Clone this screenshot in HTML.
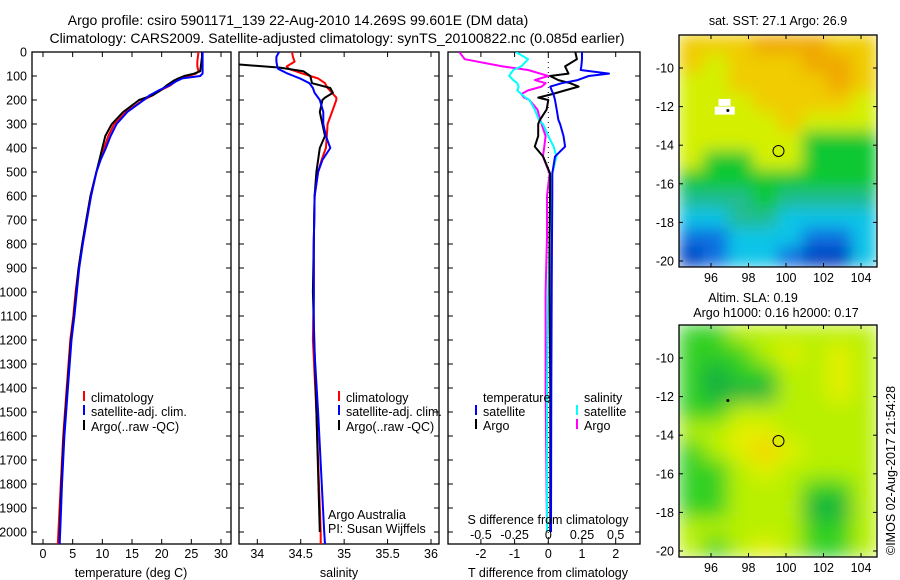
<!DOCTYPE html>
<html><head><meta charset="utf-8">
<style>
html,body{margin:0;padding:0;background:#fff;}
svg{display:block;font-family:"Liberation Sans",sans-serif;}
text{font-size:12.5px;fill:#000;}
</style></head>
<body>
<svg id="chart" width="900" height="580" viewBox="0 0 900 580">
<defs>
 <filter id="blurTop" x="0" y="0" width="1" height="1"><feGaussianBlur stdDeviation="8" edgeMode="duplicate"/></filter>
 <filter id="blurBot" x="0" y="0" width="1" height="1"><feGaussianBlur stdDeviation="10" edgeMode="duplicate"/></filter>
 <clipPath id="clipTop"><rect x="679" y="35" width="198" height="232"/></clipPath>
 <clipPath id="clipBot"><rect x="679" y="325" width="198" height="232"/></clipPath>
 <clipPath id="clipP1"><rect x="32" y="52" width="199" height="492"/></clipPath>
 <clipPath id="clipP2"><rect x="239" y="52" width="200" height="492"/></clipPath>
 <clipPath id="clipP3"><rect x="448" y="52" width="192" height="492"/></clipPath>
</defs>
<text x="298" y="25" text-anchor="middle" style="font-size:14px">Argo profile: csiro 5901171_139 22-Aug-2010 14.269S 99.601E (DM data)</text>
<text x="337" y="43" text-anchor="middle" style="font-size:14px">Climatology: CARS2009. Satellite-adjusted climatology: synTS_20100822.nc (0.085d earlier)</text>
<g id="g1"></g>
<g id="g2"></g>
<g id="g3"></g>
<g id="gm1"></g>
<g id="gm2"></g>
<text transform="translate(895,555) rotate(-90)" style="font-size:12.5px">©IMOS 02-Aug-2017 21:54:28</text>
</svg>
<script>
// ---------- data ----------
const tDepth = [0,20,40,60,80,90,100,110,120,140,160,180,200,250,300,350,400,450,500,600,700,800,900,1000,1100,1200,1400,1600,1800,2000,2050];
const tClim  = [26.2,26.1,26.0,26.0,26.2,25.8,24.5,23.2,22.5,21.4,19.8,18.5,16.9,14.0,12.0,11.0,10.3,9.6,9.0,8.0,7.3,6.6,6.0,5.5,5.1,4.6,4.0,3.4,3.0,2.6,2.5];
const tSat   = [26.9,26.9,26.9,26.9,26.9,26.9,26.5,23.5,22.6,21.2,19.5,18.0,17.0,14.2,12.4,11.4,10.6,9.7,9.0,8.1,7.4,6.7,6.1,5.7,5.3,4.8,4.2,3.6,3.2,2.9,2.8];
const tArgo  = [26.8,26.8,26.7,26.6,26.5,25.5,23.8,22.8,22.0,20.8,19.8,18.5,16.2,13.5,11.6,10.5,10.0,9.5,9.0,8.0,7.3,6.6,6.0,5.6,5.2,4.7,4.1,3.5,3.1,2.8,2.8];
const sDepth = [0,20,40,60,70,90,100,110,130,150,170,190,200,250,300,350,400,450,500,600,800,1000,1200,1500,2000,2050];
const sClim  = [34.40,34.41,34.43,34.34,34.36,34.52,34.61,34.70,34.78,34.81,34.86,34.91,34.91,34.86,34.81,34.80,34.79,34.74,34.70,34.66,34.65,34.65,34.64,34.68,34.73,34.73];
const sSat   = [34.25,34.22,34.22,34.23,34.24,34.35,34.42,34.49,34.60,34.64,34.66,34.70,34.72,34.76,34.76,34.79,34.84,34.75,34.70,34.66,34.65,34.65,34.65,34.70,34.77,34.78];
const sArgoDepth = [52,65,80,100,130,150,170,190,200,250,300,350,400,500,600,1000,1500,2000];
const sArgo  = [33.79,34.26,34.53,34.61,34.63,34.84,34.87,34.78,34.75,34.72,34.75,34.78,34.72,34.68,34.66,34.64,34.68,34.72];
const dDepth = [0,30,60,75,90,100,117,130,144,160,175,190,200,240,283,300,350,394,436,506,600,770,1000,1400,2000];
const dTSat  = [1.0,1.0,0.98,0.96,1.8,1.2,0.87,0.4,0.06,0.1,0.15,0.18,0.2,0.25,0.3,0.35,0.45,0.5,0.2,0.12,0.12,0.11,0.1,0.09,0.08];
const dTArgo = [0.8,0.85,0.5,0.55,0.6,0.05,0.3,0.65,0.9,0.5,0.13,-0.3,0.0,-0.05,-0.25,-0.3,-0.3,-0.4,-0.15,0.05,0.05,0.04,0.04,0.06,0.06];
const dSSat  = [-0.24,-0.15,-0.2,-0.26,-0.28,-0.29,-0.26,-0.23,-0.22,-0.23,-0.2,-0.17,-0.14,-0.1,-0.07,-0.04,0.0,0.04,0.06,0.03,0.02,0.01,0.0,-0.01,-0.01];
const dSArgo = [-0.66,-0.62,-0.34,-0.15,-0.06,0.0,-0.1,-0.02,-0.05,-0.15,-0.2,-0.18,-0.14,-0.08,-0.06,-0.05,-0.02,-0.03,-0.04,0.01,-0.01,-0.01,-0.02,-0.02,-0.01];
const depthTicks = [0,100,200,300,400,500,600,700,800,900,1000,1100,1200,1300,1400,1500,1600,1700,1800,1900,2000];
const tTicks = [0,5,10,15,20,25,30];
const sTicks = [34,34.5,35,35.5,36];
const dTTicks = [-2,-1,0,1,2];
const dSTicks = [-0.5,-0.25,0,0.25,0.5];
const lonTicks = [96,98,100,102,104];
const latTicks = [-10,-12,-14,-16,-18,-20];
// map category grids (rows top→bottom)
const sstGrid = ["YYYOOOYY","YLYYYOOY","LLYYYYOY","LLLYYYYL","LLLLYLLL","LLLLLGGG","LGGLLGGG","GGGGGGGG","TTTGTTTT","CCTTCCCC","BBCCCBBC","DBCCBDDC"];
const slaGrid = ["GGLLLLLL","GGGLYLYL","GDGGLLYL","GDDDLLYL","GGLLLLLL","LLYYLLLL","GLYOYLLL","GGLYLLLL","GGLLLGGL","GGLLLDDL","LLLLLGGL","LGLYLGGL"];
const sstColors = {O:"#f0a800",Y:"#f0cc00",L:"#d4f000",G:"#10c830",T:"#20bc90",C:"#10c4e8",B:"#1070e0",D:"#0040c0"};
const slaColors = {D:"#10b040",G:"#30d020",L:"#b8f000",Y:"#e4f000",O:"#f4d000"};

// ---------- helpers ----------
const NS="http://www.w3.org/2000/svg";
function mk(tag,attrs,parent){const e=document.createElementNS(NS,tag);for(const k in attrs)e.setAttribute(k,attrs[k]);parent.appendChild(e);return e;}
const Y0=52,Y1=544,DMAX=2050;
function yScale(d){return Y0+(Y1-Y0)*d/DMAX;}
function linScale(v0,p0,v1,p1){return v=>p0+(v-v0)*(p1-p0)/(v1-v0);}

function frame(g,x0,x1,xs,ticks,name){
  const r=mk('rect',{x:x0,y:Y0,width:x1-x0,height:Y1-Y0,fill:'none',stroke:'#000','stroke-width':1.3},g);
  
  
  depthTicks.forEach(d=>{const y=yScale(d);
    mk('line',{x1:x0,x2:x0+5,y1:y,y2:y,stroke:'#000'},g);
    mk('line',{x1:x1-5,x2:x1,y1:y,y2:y,stroke:'#000'},g);});
  ticks.forEach(t=>{const x=xs(t);
    mk('line',{x1:x,x2:x,y1:Y0,y2:Y0+5,stroke:'#000'},g);
    mk('line',{x1:x,x2:x,y1:Y1-5,y2:Y1,stroke:'#000'},g);
    const tx=mk('text',{x:x,y:558,'text-anchor':'middle'},g);tx.textContent=t;
    
    });
}
function series(g,depths,vals,xs,color,w,name,clip){
  let d='';depths.forEach((dp,i)=>{d+=(i?'L':'M')+xs(vals[i]).toFixed(1)+','+yScale(dp).toFixed(1);});
  const p=mk('path',{d:d,fill:'none',stroke:color,'stroke-width':w,'stroke-linejoin':'round','clip-path':'url(#'+clip+')'},g);
  
  
}
function legend(g,x,y,color,label,name){
  if(color)mk('line',{x1:x,x2:x,y1:y-11,y2:y-1,stroke:color,'stroke-width':2},g);
  const t=mk('text',{x:x+7,y:y},g);t.textContent=label;
  
  
}
function txt(g,x,y,s,name,anchor){const t=mk('text',{x:x,y:y,'text-anchor':anchor||'start'},g);t.textContent=s;
  
  return t;}

// ---------- panel 1 ----------
const g1=document.getElementById('g1');
const xT=linScale(0,43,30,221);
frame(g1,32,231,xT,tTicks,'temperature');
depthTicks.forEach(d=>{const t=mk('text',{x:27,y:yScale(d)+4.5,'text-anchor':'end'},g1);t.textContent=d;
  
  });
series(g1,tDepth,tClim,xT,'#f00',2,'temp-climatology-line','clipP1');
series(g1,tDepth,tArgo,xT,'#000',2,'temp-argo-line','clipP1');
series(g1,tDepth,tSat,xT,'#00f',2,'temp-satellite-line','clipP1');
txt(g1,131,577,'temperature (deg C)','temperature-axis-title','middle');
legend(g1,84,402,'#f00','climatology','legend-climatology');
legend(g1,84,416,'#00f','satellite-adj. clim.','legend-satellite');
legend(g1,84,431,'#000','Argo(..raw -QC)','legend-argo');

// ---------- panel 2 ----------
const g2=document.getElementById('g2');
const xS=linScale(34,257.3,36,431);
frame(g2,239,439,xS,sTicks,'salinity');
series(g2,sDepth,sClim,xS,'#f00',2,'sal-climatology-line','clipP2');
series(g2,sArgoDepth,sArgo,xS,'#000',2,'sal-argo-line','clipP2');
series(g2,sDepth,sSat,xS,'#00f',2,'sal-satellite-line','clipP2');
txt(g2,339,577,'salinity','salinity-axis-title','middle');
legend(g2,339,402,'#f00','climatology','legend-climatology');
legend(g2,339,416,'#00f','satellite-adj. clim.','legend-satellite');
legend(g2,339,431,'#000','Argo(..raw -QC)','legend-argo');
txt(g2,328,519,'Argo Australia','argo-australia-label');
txt(g2,328,533,'PI: Susan Wijffels','pi-label');

// ---------- panel 3 ----------
const g3=document.getElementById('g3');
const xD=linScale(0,548.3,1,582);
const xDS=linScale(0,548.3,0.25,582);
frame(g3,448,640,xD,dTTicks,'difference');
mk('line',{x1:548.3,x2:548.3,y1:Y0,y2:Y1,stroke:'#000','stroke-dasharray':'1,4'},g3);
series(g3,dDepth,dSArgo,xDS,'#f0f',2,'sdiff-argo-line','clipP3');
series(g3,dDepth,dSSat,xDS,'#0ff',2,'sdiff-satellite-line','clipP3');
series(g3,dDepth,dTArgo,xD,'#000',2,'tdiff-argo-line','clipP3');
series(g3,dDepth,dTSat,xD,'#00f',2,'tdiff-satellite-line','clipP3');
dSTicks.forEach(t=>{txt(g3,xDS(t),539,t,'s-diff-tick-label','middle');});
txt(g3,548,524,'S difference from climatology','s-diff-axis-title','middle');
txt(g3,548,577,'T difference from climatology','t-diff-axis-title','middle');
legend(g3,476,402,null,'temperature','legend-temperature-header');
legend(g3,577,402,null,'salinity','legend-salinity-header');
legend(g3,476,416,'#00f','satellite','legend-t-satellite');
legend(g3,476,430,'#000','Argo','legend-t-argo');
legend(g3,577,416,'#0ff','satellite','legend-s-satellite');
legend(g3,577,430,'#f0f','Argo','legend-s-argo');

// ---------- maps ----------
function map(gid,top,grid,colors,filt,clip,name){
  const g=document.getElementById(gid);
  const X0=679,W=198,H=232;
  const lonS=linScale(96,711,104,861);
  const latS=linScale(-10,top+33,-20,top+226);
  const inner=mk('g',{'clip-path':'url(#'+clip+')'},g);
  const fg=mk('g',{filter:'url(#'+filt+')'},inner);
  const rows=grid.length,cols=grid[0].length;
  const cw=W/cols,ch=H/rows;
  grid.forEach((row,r)=>{[...row].forEach((c,k)=>{
    const cell=mk('rect',{x:X0+k*cw-0.5,y:top+r*ch-0.5,width:cw+1,height:ch+1,fill:colors[c]},fg);
    
    });});
  mk('rect',{x:X0,y:top,width:W,height:H,fill:'none',stroke:'#000','stroke-width':1.3},g);
  lonTicks.forEach(l=>{const x=lonS(l);
    mk('line',{x1:x,x2:x,y1:top,y2:top+4,stroke:'#000'},g);
    mk('line',{x1:x,x2:x,y1:top+H-4,y2:top+H,stroke:'#000'},g);
    txt(g,x,top+H+15,l,'lon-tick-label','middle');});
  latTicks.forEach(l=>{const y=latS(l);
    mk('line',{x1:X0,x2:X0+4,y1:y,y2:y,stroke:'#000'},g);
    mk('line',{x1:X0+W-4,x2:X0+W,y1:y,y2:y,stroke:'#000'},g);
    txt(g,674,y+4.5,l,'lat-tick-label','end');});
  const c=mk('circle',{cx:lonS(99.6),cy:latS(-14.3),r:5.5,fill:'none',stroke:'#000','stroke-width':1},g);
  
  
  return {g,lonS,latS};
}
const m1=map('gm1',35,sstGrid,sstColors,'blurTop','clipTop','sst-cell');
mk('rect',{x:m1.lonS(96.4),y:m1.latS(-11.6),width:12,height:7,fill:'#fff'},m1.g);
mk('rect',{x:m1.lonS(96.2),y:m1.latS(-12.0),width:20,height:8,fill:'#fff'},m1.g);
mk('circle',{cx:m1.lonS(96.9),cy:m1.latS(-12.2),r:1.5,fill:'#000'},m1.g);
txt(m1.g,778,25,'sat. SST: 27.1 Argo: 26.9','sst-map-title','middle');
const m2=map('gm2',325,slaGrid,slaColors,'blurBot','clipBot','sla-cell');
mk('circle',{cx:m2.lonS(96.9),cy:m2.latS(-12.2),r:1.5,fill:'#000'},m2.g);
txt(m2.g,753,302,'Altim. SLA: 0.19','sla-map-title','middle');
txt(m2.g,776,317,'Argo h1000: 0.16 h2000: 0.17','argo-height-title','middle');
</script>
</body></html>
